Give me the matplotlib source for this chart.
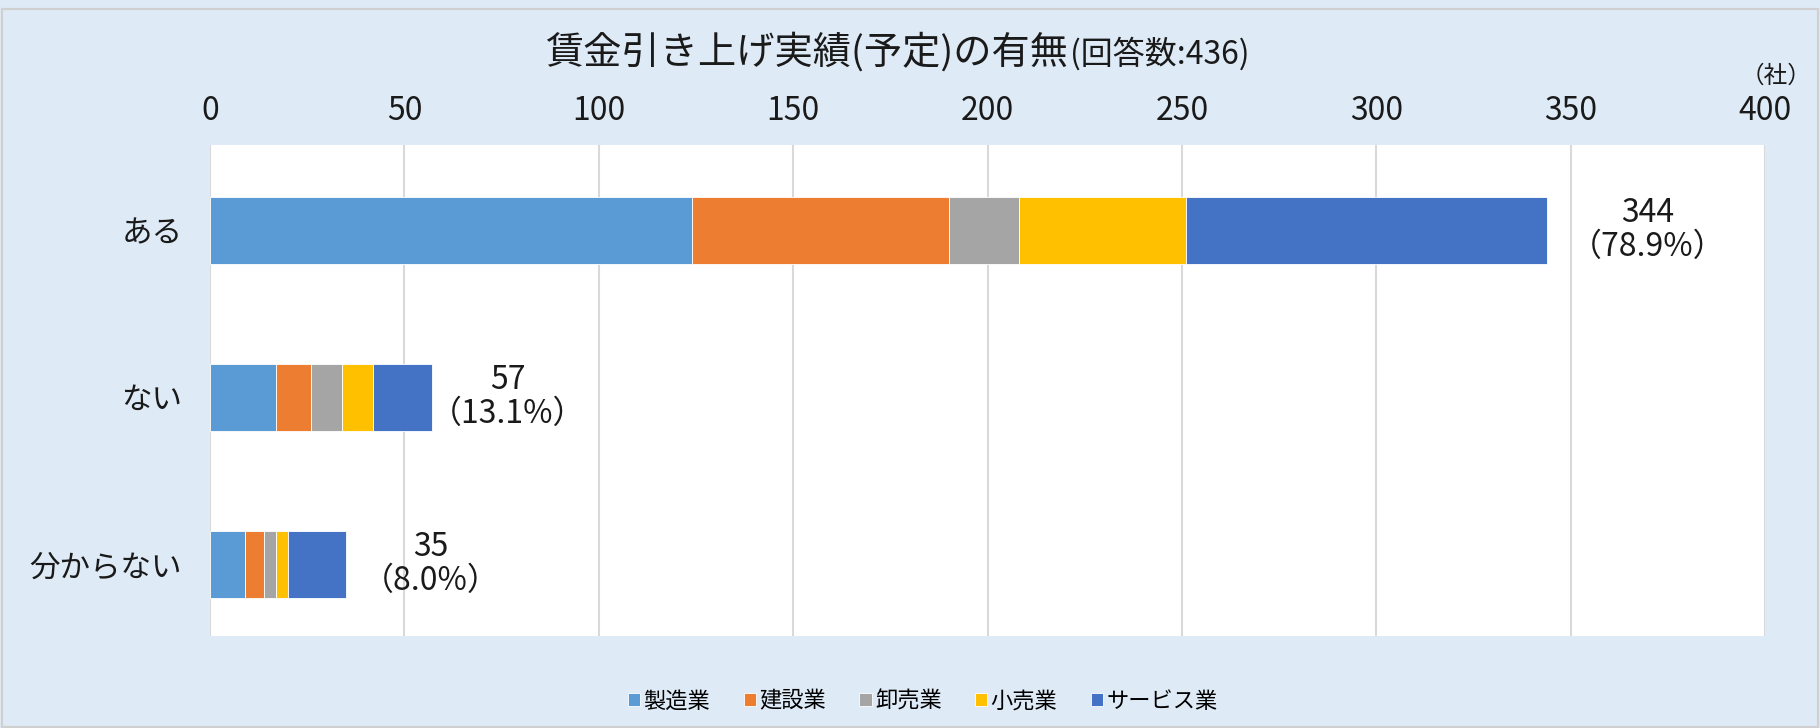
import matplotlib
matplotlib.use("Agg")
import matplotlib.pyplot as plt
import numpy as np
from matplotlib.patches import Rectangle

plt.rcParams['font.family'] = ['Noto Sans CJK JP', 'DejaVu Sans']

# data
categories = ["ある", "ない", "分からない"]
industries = ["製造業", "建設業", "卸売業", "小売業", "サービス業"]
manufacturing = [124, 17, 9]
construction = [66, 9, 5]
wholesale = [18, 8, 3]
retail = [43, 8, 3]
service = [93, 15, 15]
totals = [344, 57, 35]
shares = [78.9, 13.1, 8.0]
x_ticks = [0, 50, 100, 150, 200, 250, 300, 350, 400]

series = [manufacturing, construction, wholesale, retail, service]
colors = ["#5B9BD5", "#ED7D31", "#A5A5A5", "#FFC000", "#4472C4"]
label_offsets = [100, 76, 85]  # px from bar end to label centre (manual in original)

bg = "#DEEAF6"
fig = plt.figure(figsize=(18.2, 7.28), dpi=100, facecolor=bg)
ax = fig.add_axes([0.1154, 0.1264, 0.8544, 0.6744])
ax.set_facecolor("white")

y = np.arange(len(categories))
left = np.zeros(len(categories))
for vals, name, c in zip(series, industries, colors):
    ax.barh(y, vals, left=left, height=0.4, color=c, label=name,
            edgecolor="white", linewidth=0.6, zorder=3)
    left += np.array(vals)

for i, (t, s) in enumerate(zip(totals, shares)):
    ax.annotate(f"{t}\n（{s:.1f}%）", xy=(t, i), xytext=(label_offsets[i], 0),
                textcoords="offset pixels", ha="center", va="center",
                fontsize=23, linespacing=1.08, color="#1a1a1a", zorder=4)

ax.set_xlim(0, 400)
ax.set_ylim(2.43, -0.51)
ax.set_xticks(x_ticks)
ax.xaxis.tick_top()
ax.tick_params(axis="x", length=0, pad=13, labelsize=23, colors="#1a1a1a")
ax.set_yticks(y)
ax.set_yticklabels(categories)
ax.tick_params(axis="y", length=0, pad=20, labelsize=22, colors="#1a1a1a")
ax.grid(axis="x", color="#D9D9D9", linewidth=1.5, zorder=0)
for sp in ax.spines.values():
    sp.set_visible(False)

fig.text(0.587, 0.913, "賃金引き上げ実績(予定)の有無", ha="right", va="baseline",
         fontsize=27.5, color="#1a1a1a")
fig.text(0.588, 0.913, "(回答数:436)", ha="left", va="baseline",
         fontsize=23, color="#1a1a1a")
fig.text(0.976, 0.895, "（社）", ha="center", va="center", fontsize=17, color="#1a1a1a")

fig.legend(loc="center", bbox_to_anchor=(0.507, 0.037), ncol=5, frameon=False,
           fontsize=16, handlelength=0.55, handleheight=0.55, handletextpad=0.15,
           columnspacing=1.5)

fig.patches.append(Rectangle((0.001, 0.001), 0.998, 0.986, transform=fig.transFigure,
                             fill=False, edgecolor="#D0D0D0", linewidth=1.5))

fig.savefig("out.png", dpi=100, facecolor=bg)
